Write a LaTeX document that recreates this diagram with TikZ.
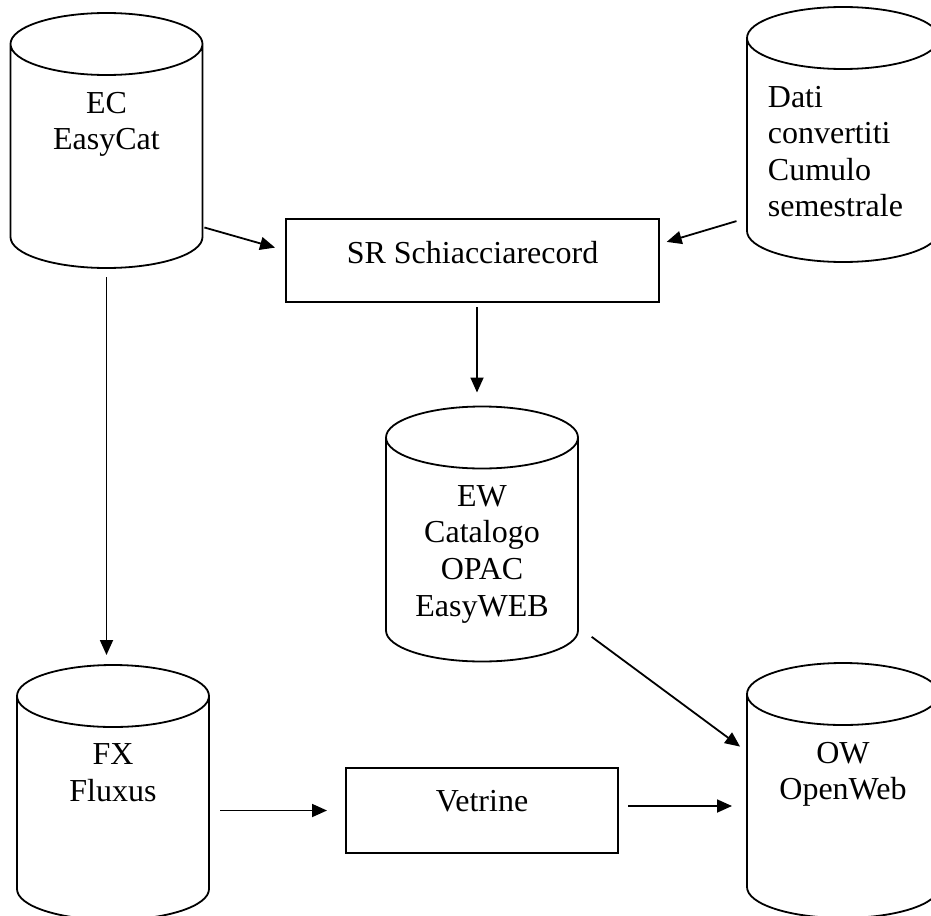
\documentclass[tikz,border=0pt]{standalone}
\usepackage{fontspec}
\setmainfont{Liberation Serif}
\usetikzlibrary{arrows.meta,calc}

\tikzset{
  db/.style={rectangle, minimum width=96pt, minimum height=127.5pt,
    inner sep=0pt, outer sep=0pt},
  dbtext/.style={anchor=north, inner sep=0pt, yshift=-39pt, align=center},
  proc/.style={rectangle, draw, inner sep=0pt, outer sep=0pt},
  proctext/.style={anchor=north, inner sep=0pt, yshift=-10.5pt},
  arr/.style={-{Triangle[length=7.5pt,width=6.5pt]}},
}

\begin{document}
\begin{tikzpicture}[x=0.5pt,y=-0.5pt,line width=0.9pt,
  font=\fontsize{16}{18.3}\selectfont]
%
\def\rx{48pt}
\def\ry{15.5pt}
%
\useasboundingbox (0,0) rectangle (931,915);
\clip (0,0) rectangle (931,915);
%
\node[db,label={[dbtext]north:EC\\EasyCat}] (ec) at (106.5,140.5) {};
\node[db,label={[dbtext,anchor=north west,xshift=-38pt,align=left]north:Dati\\convertiti\\Cumulo\\semestrale}] (dati) at (843,134.5) {};
\node[db,label={[dbtext]north:EW\\Catalogo\\OPAC\\EasyWEB}] (ew) at (482,534) {};
\node[db,label={[dbtext]north:FX\\Fluxus}] (fx) at (113,792.5) {};
\node[db,label={[dbtext]north:OW\\OpenWeb}] (ow) at (843,790.5) {};
%
\foreach \n in {ec,dati,ew,fx,ow}{
  \draw([yshift=-\ry]\n.north west)--([yshift=\ry]\n.south west)
    arc[start angle=180,end angle=360,x radius=\rx,y radius=\ry]
    --([yshift=-\ry]\n.north east)
    arc[start angle=0,end angle=360,x radius=\rx,y radius=\ry];
}
%
\node[proc,minimum width=186.5pt,minimum height=41.5pt,
  label={[proctext]north:SR Schiacciarecord}] (sr) at (472.5,260.5) {};
\node[proc,minimum width=136pt,minimum height=42.5pt,
  label={[proctext]north:Vetrine}] (vet) at (482,810.5) {};
%
\draw[arr,shorten <=1pt,shorten >=5.7pt](ec.-42)--(sr.177);
\draw[arr,shorten <=5.5pt,shorten >=4pt](dati.221)--(sr.5);
\draw[arr,shorten <=2.5pt,shorten >=7pt]([xshift=2.25pt]sr.south)--([xshift=2.25pt]sr.south |- ew.north);
\draw[arr,shorten <=4.5pt,shorten >=5pt](ec.south)--(ec.south |- fx.north);
\draw[arr,shorten <=5.5pt,shorten >=9.5pt](fx.east |- vet.west)--(vet.west);
\draw[arr,shorten <=5pt,shorten >=7.5pt]([yshift=2.25pt]vet.east)--([yshift=2.25pt]vet.east -| ow.west);
\draw[arr,shorten <=8.5pt,shorten >=4.3pt](ew.-44)--(ow.158);
%
\end{tikzpicture}
\end{document}
